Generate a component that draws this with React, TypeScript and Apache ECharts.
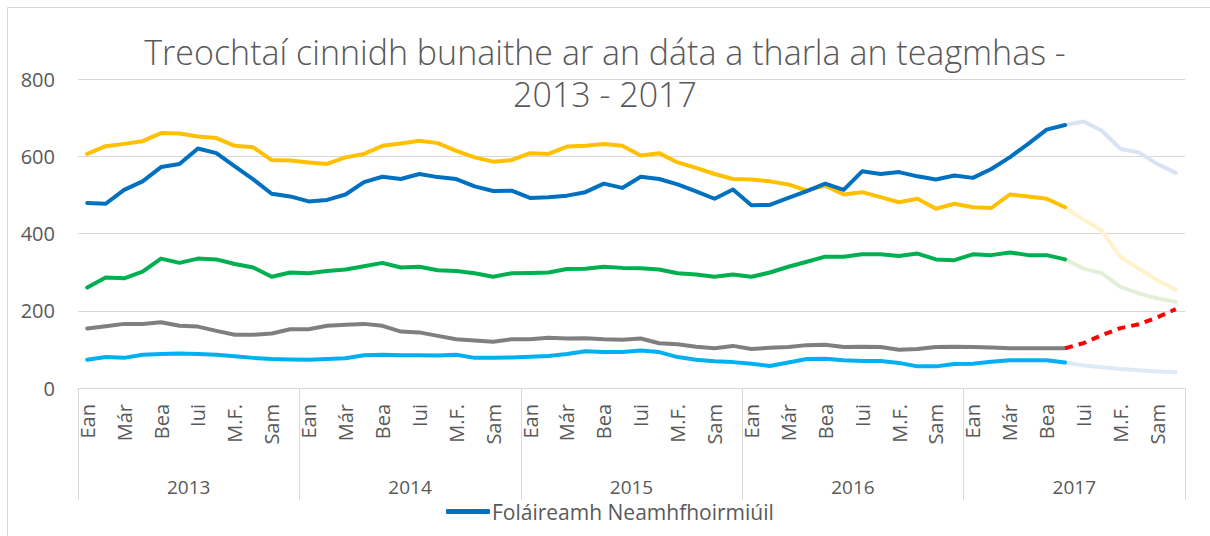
import React, { useEffect, useRef } from "react";
import * as echarts from "echarts";

const months = ["Ean", "Feabh", "Már", "Aib", "Bea", "Meith", "Iui", "Lún", "M.F.", "D.F.", "Sam", "Noll"];
const years = ["2013", "2014", "2015", "2016", "2017"];
const categories: string[] = years.flatMap((y) => months.map((m) => `${m} ${y}`));

const titleText = "Treochtaí cinnidh bunaithe ar an dáta a tharla an teagmhas -\n2013 - 2017";
const legendName = "Foláireamh Neamhfhoirmiúil";

// actual values (Jan 2013 – Jun 2017)
const darkBlue = [
  479, 477, 513, 535, 572, 580, 620, 608, 574, 540, 503, 496,
  483, 487, 501, 533, 547, 541, 554, 546, 541, 522, 510, 511,
  492, 494, 498, 507, 529, 518, 547, 541, 527, 509, 490, 514,
  473, 474, 492, 510, 529, 513, 561, 554, 559, 548, 540, 550,
  544, 567, 597, 632, 669, 681,
];
const yellow = [
  606, 626, 632, 639, 660, 659, 651, 647, 627, 623, 590, 589,
  584, 580, 597, 606, 627, 633, 640, 634, 614, 597, 586, 590,
  608, 606, 625, 627, 632, 627, 602, 608, 584, 570, 554, 541,
  540, 535, 527, 511, 524, 501, 507, 494, 481, 490, 464, 477,
  468, 466, 501, 496, 490, 468,
];
const green = [
  260, 286, 284, 301, 335, 324, 335, 333, 321, 312, 288, 299,
  297, 303, 307, 315, 324, 312, 314, 305, 303, 297, 288, 297,
  298, 299, 308, 309, 314, 311, 310, 307, 297, 294, 288, 294,
  288, 299, 314, 327, 340, 340, 346, 346, 342, 348, 333, 331,
  346, 344, 351, 344, 344, 333,
];
const gray = [
  154, 160, 166, 166, 170, 161, 159, 148, 138, 138, 141, 152,
  152, 161, 164, 166, 161, 146, 144, 135, 126, 123, 120, 126,
  126, 130, 128, 129, 126, 125, 128, 116, 113, 107, 103, 109,
  101, 104, 106, 111, 112, 106, 107, 106, 99, 101, 106, 107,
  106, 105, 103, 103, 103, 103,
];
const lightBlue = [
  73, 80, 78, 86, 88, 89, 88, 86, 82, 78, 75, 74,
  73, 75, 77, 85, 86, 85, 85, 84, 86, 78, 78, 79,
  81, 83, 88, 95, 93, 93, 97, 93, 80, 73, 69, 67,
  63, 57, 66, 75, 76, 72, 70, 70, 65, 56, 56, 62,
  63, 68, 72, 72, 72, 66,
];

// forecast values (Jun 2017 – Dec 2017)
const darkBlueForecast = [681, 690, 666, 619, 610, 580, 557];
const yellowForecast = [468, 436, 407, 339, 309, 279, 254];
const greenForecast = [333, 309, 297, 262, 245, 232, 223];
const grayForecast = [103, 116, 137, 155, 165, 183, 204];
const lightBlueForecast = [66, 58, 54, 49, 46, 43, 41];

const forecastStart = 53;

function padForecast(vals: number[]): (number | null)[] {
  const out: (number | null)[] = categories.map(() => null);
  vals.forEach((v, i) => {
    out[forecastStart + i] = v;
  });
  return out;
}

const FONT = "'Open Sans', Lato, sans-serif";
const TXT = "#595959";

function lineSeries(name: string, data: (number | null)[], color: string, dashed = false) {
  return {
    name,
    type: "line",
    data,
    showSymbol: false,
    symbol: "none",
    connectNulls: false,
    smooth: false,
    lineStyle: {
      color,
      width: 4,
      cap: dashed ? "butt" : "round",
      join: "round",
      type: dashed ? [8, 6] : "solid",
    },
    itemStyle: { color },
    emphasis: { disabled: true },
    z: dashed ? 3 : 2,
  };
}

export default function App() {
  const ref = useRef<HTMLDivElement>(null);

  useEffect(() => {
    if (!ref.current) return;
    const chart = echarts.init(ref.current, undefined, { renderer: "svg" });
    chart.setOption({
      animation: false,
      backgroundColor: "#ffffff",
      textStyle: { fontFamily: FONT },
      graphic: [
        {
          type: "rect",
          shape: { x: 7.5, y: 7.5, width: 1220, height: 560 },
          style: { fill: "none", stroke: "#D9D9D9", lineWidth: 1 },
          silent: true,
          z: -10,
        },
      ],
      title: {
        text: titleText,
        left: "center",
        top: 26,
        textStyle: {
          fontFamily: FONT,
          fontSize: 34,
          fontWeight: 300,
          color: TXT,
          lineHeight: 42,
        },
      },
      legend: {
        data: [legendName],
        left: 441,
        top: 496,
        itemWidth: 44,
        itemHeight: 5,
        itemGap: 4,
        icon: "roundRect",
        textStyle: { fontFamily: FONT, fontSize: 21, color: TXT, padding: [0, 0, 0, -3] },
      },
      grid: { left: 78, right: 25, top: 79, bottom: 148, containLabel: false },
      xAxis: [
        {
          type: "category",
          data: categories,
          boundaryGap: true,
          position: "bottom",
          axisLine: { show: true, lineStyle: { color: "#D9D9D9", width: 1 } },
          axisTick: { show: false },
          axisLabel: {
            interval: 1,
            rotate: 90,
            margin: 16,
            fontFamily: FONT,
            fontSize: 20,
            color: TXT,
            formatter: (v: string) => v.split(" ")[0],
          },
          splitLine: { show: false },
        },
        {
          type: "category",
          data: years,
          boundaryGap: true,
          position: "bottom",
          axisLine: { show: false },
          axisTick: {
            show: true,
            interval: 0,
            length: 112,
            lineStyle: { color: "#D9D9D9", width: 1 },
          },
          axisLabel: {
            interval: 0,
            margin: 89,
            fontFamily: FONT,
            fontSize: 19,
            color: TXT,
          },
          splitLine: { show: false },
        },
      ],
      yAxis: {
        type: "value",
        min: 0,
        max: 800,
        interval: 200,
        axisLine: { show: false },
        axisTick: { show: false },
        axisLabel: { fontFamily: FONT, fontSize: 20, color: TXT, margin: 23 },
        splitLine: { show: true, lineStyle: { color: "#D9D9D9", width: 1 } },
      },
      series: [
        lineSeries("Sraith 5", padForecast(lightBlueForecast), "#DEEBF7"),
        lineSeries("Sraith 3", padForecast(greenForecast), "#E2F0D9"),
        lineSeries("Sraith 2", padForecast(yellowForecast), "#FFF2CC"),
        lineSeries(legendName + " (réamhaisnéis)", padForecast(darkBlueForecast), "#DAE3F3"),
        lineSeries("Sraith 4 (réamhaisnéis)", padForecast(grayForecast), "#FF0000", true),
        lineSeries("Sraith 5 ", lightBlue, "#00B0F0"),
        lineSeries("Sraith 4", gray, "#7F7F7F"),
        lineSeries("Sraith 3 ", green, "#00B050"),
        lineSeries("Sraith 2 ", yellow, "#FFC000"),
        lineSeries(legendName, darkBlue, "#0070C0"),
      ],
    });
    return () => chart.dispose();
  }, []);

  return <div ref={ref} style={{ width: 1210, height: 536, position: "absolute", left: 0, top: 0 }} />;
}
